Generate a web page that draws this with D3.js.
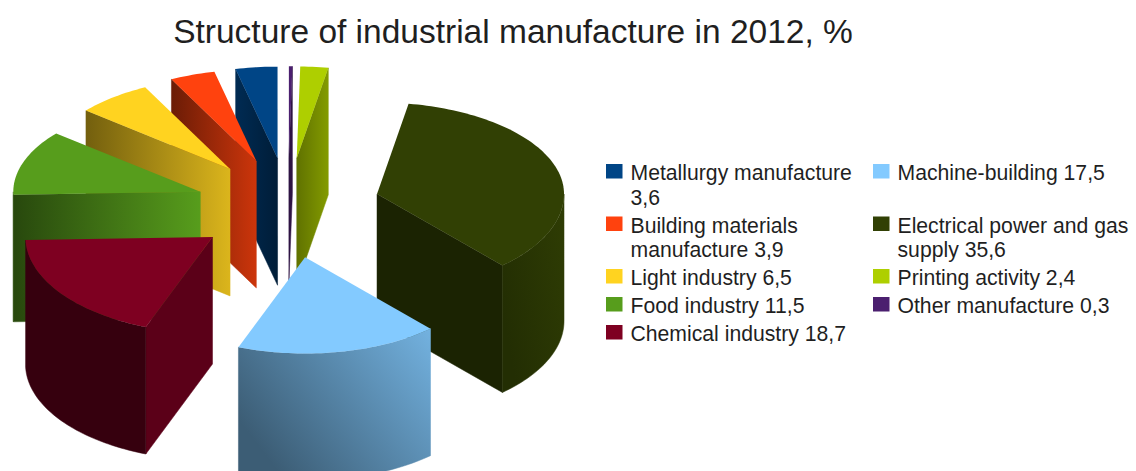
<!DOCTYPE html>
<html>
<head>
<meta charset="utf-8">
<title>Structure of industrial manufacture in 2012</title>
<script src="https://cdn.jsdelivr.net/npm/d3@7"></script>
<style>
  html, body { margin: 0; padding: 0; background: #fff; overflow: hidden; }
  text { font-family: "Liberation Sans", Arial, sans-serif; fill: #1f1f1f; }
</style>
</head>
<body>
<div id="chart"></div>
<script>
var chartTitle = "Structure of industrial manufacture in 2012, %";
var categories = ["Metallurgy manufacture", "Building materials manufacture", "Light industry", "Food industry",
    "Chemical industry", "Machine-building", "Electrical power and gas supply", "Printing activity", "Other manufacture"];
var values = [3.6, 3.9, 6.5, 11.5, 18.7, 17.5, 35.6, 2.4, 0.3];
var colors = ["#004586", "#ff420e", "#ffd320", "#579d1c", "#7e0021", "#83caff", "#314004", "#aecf00", "#4b1f6f"];

// brightness of the walls of each slice, left end then right end
var sideTones = [[0.62, 0.42], [0.42, 0.8], [0.45, 0.86], [0.46, 1], [0.72, 0.72], [0.6, 0.6], [0.55, 0.55], [0.55, 0.75], [0.6, 0.6]];
var rimTones = [[0.5, 0.5], [0.5, 0.5], [0.5, 0.5], [0.5, 0.5], [0.43, 0.43], [0.46, 0.88], [0.72, 0.96], [0.5, 0.5], [0.5, 0.5]];

var width = 1136, height = 471;
var hub = [288, 208];        // where the slices would meet without the explosion
var explode = 92.7;
var radius = 187;
var tiltBack = 0.49;         // flattening of the top faces, the near half is a bit deeper
var tiltFront = 0.515;
var explodeTilt = 0.54;
var depth = 127;

var svg = d3.select("#chart").append("svg")
    .attr("width", width)
    .attr("height", height);
var defs = svg.append("defs");

svg.append("text")
    .attr("x", 513)
    .attr("y", 43)
    .attr("text-anchor", "middle")
    .style("font-size", "33.5px")
    .text(chartTitle);

// goes anti-clockwise from the top, like the original
var pie = d3.pie().sort(null).startAngle(0).endAngle(-2 * Math.PI);
var slices = pie(values).map(function(d, i) {
    var mid = (d.startAngle + d.endAngle) / 2;
    return {
        i: i,
        a0: d.startAngle,
        a1: d.endAngle,
        cx: hub[0] + explode * Math.sin(mid),
        cy: hub[1] - explode * explodeTilt * Math.cos(mid)
    };
});

var lineGen = d3.line();

function point(s, a, drop) {
    var c = Math.cos(a);
    return [s.cx + radius * Math.sin(a), s.cy - radius * (c > 0 ? tiltBack : tiltFront) * c + (drop || 0)];
}

function sweep(lo, hi) {
    var n = Math.max(2, Math.ceil(Math.abs(hi - lo) * 40));
    return d3.range(0, n + 1).map(function(k) { return lo + (hi - lo) * k / n; });
}

function toned(color, t) {
    var c = d3.rgb(color);
    return d3.rgb(c.r * t, c.g * t, c.b * t).formatHex();
}

function gradient(id, color, tones, y1) {
    var g = defs.append("linearGradient")
        .attr("id", id)
        .attr("x1", "0%").attr("y1", y1 + "%")
        .attr("x2", "100%").attr("y2", "0%");
    g.append("stop").attr("offset", "0%").attr("stop-color", toned(color, tones[0]));
    g.append("stop").attr("offset", "100%").attr("stop-color", toned(color, tones[1]));
    return "url(#" + id + ")";
}

// back slices first, nearer ones paint over them
var order = slices.slice().sort(function(a, b) { return a.cy - b.cy; });

var groups = svg.selectAll("g.slice")
    .data(order)
    .enter()
    .append("g")
    .attr("class", "slice");

groups.each(function(s) {
    var g = d3.select(this);
    var color = colors[s.i];

    // flat walls, only the ones turned towards the viewer
    [s.a0, s.a1].forEach(function(a, k) {
        var normal = a + (k === 0 ? Math.PI / 2 : -Math.PI / 2);
        if (Math.cos(normal) >= -0.001) return;
        var fill = gradient("side" + s.i + k, color, sideTones[s.i], 0);
        g.append("path")
            .attr("d", lineGen([[s.cx, s.cy], point(s, a), point(s, a, depth), [s.cx, s.cy + depth]]) + "Z")
            .attr("fill", fill)
            .attr("stroke", fill)
            .attr("stroke-width", 0.5);
    });

    // curved wall, the part at the front
    var lo = Math.max(Math.min(s.a0, s.a1), -1.5 * Math.PI);
    var hi = Math.min(Math.max(s.a0, s.a1), -0.5 * Math.PI);
    if (lo < hi) {
        var steps = sweep(lo, hi);
        var pts = steps.map(function(a) { return point(s, a); })
            .concat(steps.slice().reverse().map(function(a) { return point(s, a, depth); }));
        var rimFill = gradient("rim" + s.i, color, rimTones[s.i], 60);
        g.append("path")
            .attr("d", lineGen(pts) + "Z")
            .attr("fill", rimFill)
            .attr("stroke", rimFill)
            .attr("stroke-width", 0.5);
    }

    // top face
    var face = [[s.cx, s.cy]].concat(sweep(s.a0, s.a1).map(function(a) { return point(s, a); }));
    g.append("path")
        .attr("d", lineGen(face) + "Z")
        .attr("fill", color);
});

// legend, filled column by column
var legendRows = 5;
var legendFont = 21.2, lineHeight = 24.5, rowGap = 3.5, maxLine = 245;
var columnX = [606, 873];
var measure = svg.append("text").style("font-size", legendFont + "px").attr("visibility", "hidden");

function wrap(label) {
    var lines = [], current = "";
    label.split(" ").forEach(function(word) {
        var next = current ? current + " " + word : word;
        measure.text(next);
        if (measure.node().getComputedTextLength() > maxLine && current) {
            lines.push(current);
            current = word;
        } else {
            current = next;
        }
    });
    lines.push(current);
    return lines;
}

var legendItems = categories.map(function(name, i) {
    return { i: i, lines: wrap(name + " " + d3.format(".1f")(values[i]).replace(".", ",")) };
});
measure.remove();

// row heights come from the tallest cell of the row
var rowY = [], y = 180;
d3.range(legendRows).forEach(function(r) {
    rowY.push(y);
    var left = legendItems[r], right = legendItems[r + legendRows];
    var n = Math.max(left.lines.length, right ? right.lines.length : 0);
    y += n * lineHeight + rowGap;
});

var legend = svg.selectAll("g.legend")
    .data(legendItems)
    .enter()
    .append("g")
    .attr("class", "legend")
    .attr("transform", function(d) {
        var col = d.i < legendRows ? 0 : 1;
        return "translate(" + columnX[col] + "," + rowY[col ? d.i - legendRows : d.i] + ")";
    });

legend.append("rect")
    .attr("x", 0)
    .attr("y", -16)
    .attr("width", 16.5)
    .attr("height", 14.5)
    .attr("fill", function(d) { return colors[d.i]; });

legend.selectAll("text")
    .data(function(d) { return d.lines; })
    .enter()
    .append("text")
    .attr("x", 24.5)
    .attr("y", function(d, i) { return i * lineHeight; })
    .style("font-size", legendFont + "px")
    .text(function(d) { return d; });
</script>
</body>
</html>
